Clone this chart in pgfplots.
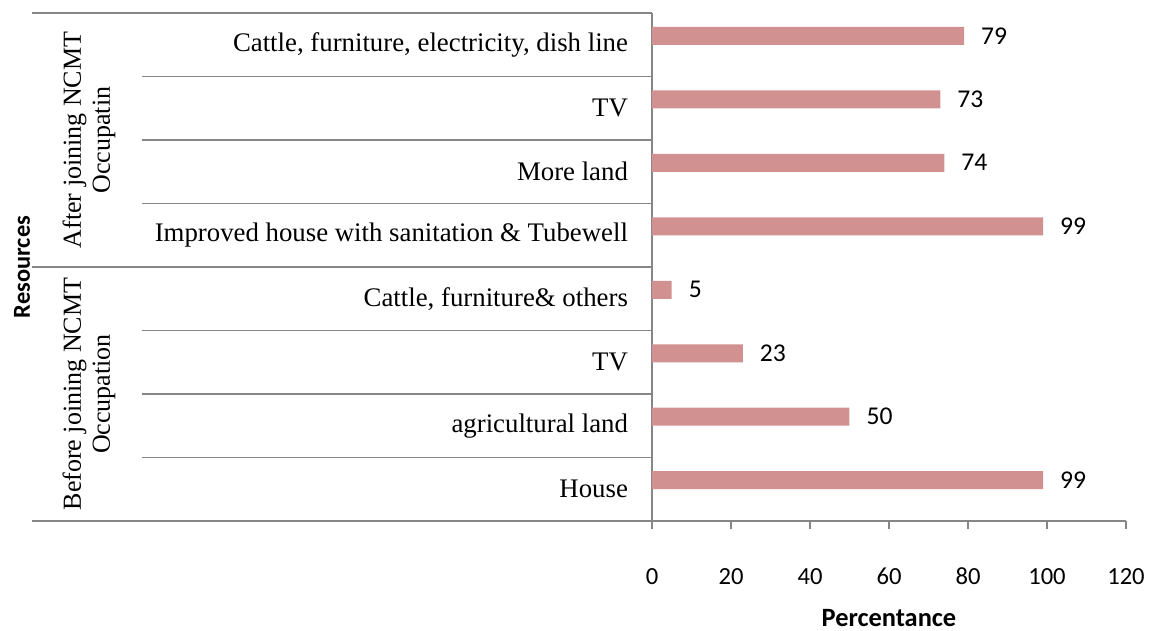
\documentclass[border=0pt]{standalone}
\usepackage{fontspec}
\setmainfont{Carlito}
\newfontfamily\tnr{Liberation Serif}
\usepackage{pgfplots}
\pgfplotsset{compat=1.18}
\definecolor{barred}{RGB}{210,145,145}
\definecolor{linegray}{RGB}{134,134,134}
\begin{document}
\begin{tikzpicture}
\path[use as bounding box] (0,0) rectangle (578.5pt,315.5pt);
\begin{axis}[
  at={(326pt,55pt)}, anchor=south west,
  scale only axis, width=237pt, height=254pt,
  xbar, bar width=9pt, bar shift=4.5pt,
  xmin=0, xmax=120, ymin=0.5, ymax=8.5,
  axis x line*=bottom, axis y line*=left,
  axis line style={linegray, line width=0.75pt},
  xtick={0,20,...,120},
  ytick={1,...,8},
  yticklabels={House, agricultural land, TV, {Cattle, furniture\& others},
    {Improved house with sanitation \& Tubewell}, More land, TV,
    {Cattle, furniture, electricity, dish line}},
  yticklabel style={font=\tnr\fontsize{13.4}{15}\selectfont, xshift=-4.5pt},
  ytick style={draw=none},
  xtick style={linegray, line width=0.75pt},
  tick align=outside, major tick length=4pt,
  xticklabel style={font=\fontsize{12.3}{14}\selectfont, yshift=-16pt},
  /pgf/number format/assume math mode=true,
  clip=false,
  nodes near coords,
  nodes near coords style={font=\fontsize{12.8}{14}\selectfont, anchor=west, xshift=5pt, black},
  xlabel={Percentance},
  xlabel style={font=\bfseries\fontsize{13.2}{15}\selectfont, at={(axis description cs:0.5,0)}, anchor=center, yshift=-48.5pt},
]
\addplot[fill=barred, draw=none] coordinates {
  (99,1) (50,2) (23,3) (5,4) (99,5) (74,6) (73,7) (79,8)
};
% table lines on the left
\draw[linegray, line width=0.75pt] ([xshift=-310pt]axis cs:0,8.5) -- (axis cs:0,8.5);
\draw[linegray, line width=0.75pt] ([xshift=-310pt]axis cs:0,4.5) -- (axis cs:0,4.5);
\draw[linegray, line width=0.75pt] ([xshift=-310pt]axis cs:0,0.5) -- (axis cs:0,0.5);
\pgfplotsinvokeforeach{1.5,2.5,3.5,5.5,6.5,7.5}{
  \draw[linegray, line width=0.75pt] ([xshift=-255pt]axis cs:0,#1) -- (axis cs:0,#1);
}
\node[rotate=90, align=center, font=\tnr\fontsize{13}{14.5}\selectfont]
  at ([xshift=-281.5pt]axis cs:0,6.5) {After joining NCMT\\Occupatin};
\node[rotate=90, align=center, font=\tnr\fontsize{13}{14.5}\selectfont]
  at ([xshift=-281.5pt]axis cs:0,2.5) {Before joining NCMT\\Occupation};
\end{axis}
\node[rotate=90, font=\bfseries\fontsize{12.2}{14}\selectfont] at (11pt,182pt) {Resources};
\end{tikzpicture}
\end{document}
